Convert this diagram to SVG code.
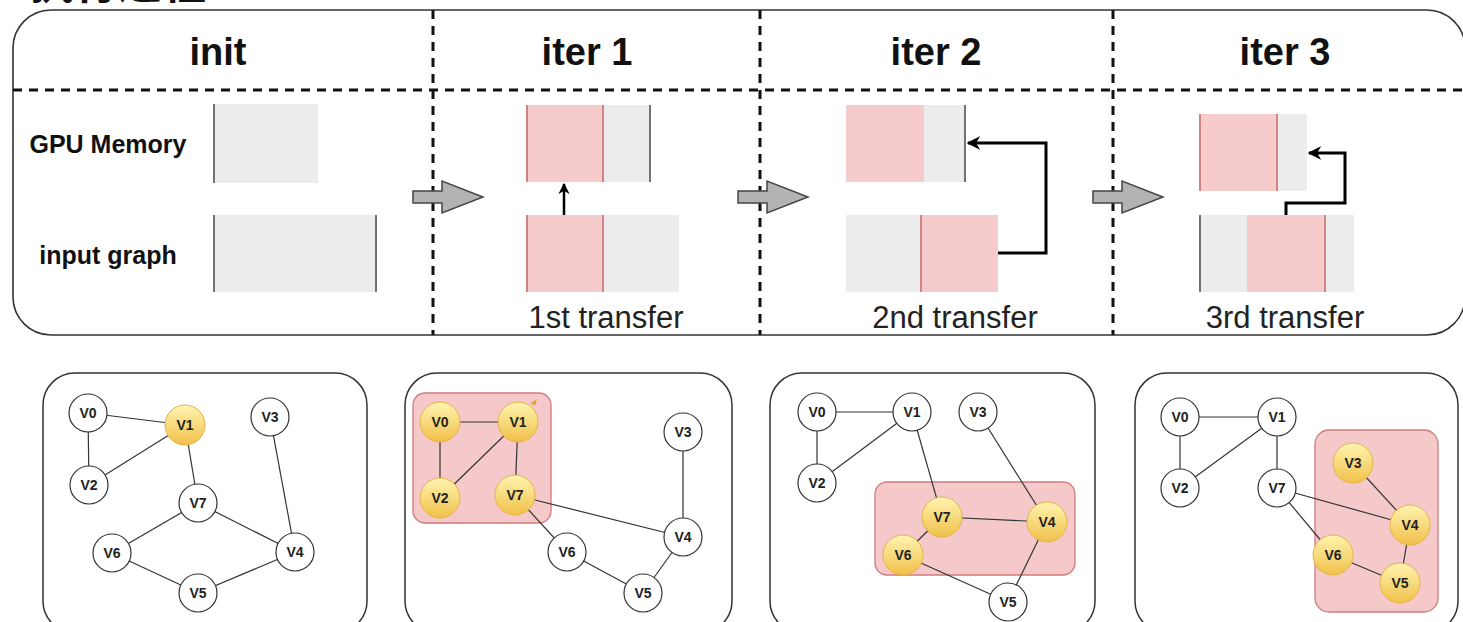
<svg xmlns="http://www.w3.org/2000/svg" width="1463" height="622" viewBox="0 0 1463 622">
  <defs>
    <linearGradient id="gold" x1="0" y1="0" x2="0" y2="1">
      <stop offset="0" stop-color="#fff4b0"/>
      <stop offset="1" stop-color="#f1c04a"/>
    </linearGradient>
    <marker id="head" viewBox="0 0 10 10" refX="9" refY="5" markerWidth="4.5" markerHeight="4.5" orient="auto">
      <path d="M0,0 L10,5 L0,10 L3,5 Z" fill="#000"/>
    </marker>
    <path id="step" d="M0,-6 H29 V-16 L70,0 L29,16 V6 H0 Z"/>
  </defs>
  <style>
    .title { font-family: "Liberation Sans", Arial, sans-serif; font-weight: bold; font-size: 38px; fill: #111; text-anchor: middle; }
    .row { font-family: "Liberation Sans", Arial, sans-serif; font-weight: bold; font-size: 25px; fill: #111; text-anchor: middle; }
    .cap { font-family: "Liberation Sans", Arial, sans-serif; font-size: 31px; fill: #222; text-anchor: middle; }
    .vl { font-family: "Liberation Sans", Arial, sans-serif; font-weight: bold; font-size: 14px; fill: #222; text-anchor: middle; dominant-baseline: central; }
    .frame { fill: none; stroke: #333; stroke-width: 1.6; }
    .sep { fill: none; stroke: #111; stroke-width: 3; stroke-dasharray: 9 7; }
    .gray { fill: #ececec; }
    .pink { fill: #f6cbcb; }
    .redline { stroke: #c87070; stroke-width: 1.6; }
    .darkline { stroke: #555; stroke-width: 1.6; }
    .step { fill: #b3b3b3; stroke: #444; stroke-width: 1.5; }
    .flow { fill: none; stroke: #000; stroke-width: 3; marker-end: url(#head); }
    .edge { stroke: #333; stroke-width: 1.2; }
    .node { fill: #fff; stroke: #333; stroke-width: 1.2; }
    .hot { fill: url(#gold); stroke: #e2b548; stroke-width: 1; }
    .zone { fill: #f5c9c9; stroke: #cf7c7c; stroke-width: 1.3; }
    .panel { fill: none; stroke: #333; stroke-width: 1.5; }
  </style>

  <!-- heading, clipped by the top edge -->
  <text x="30" y="-1" font-family="'Noto Sans CJK SC', sans-serif" font-weight="bold" font-size="44" fill="#111">执行过程</text>

  <!-- top timeline frame -->
  <g id="timeline">
    <rect class="frame" x="13" y="10" width="1452" height="325" rx="38"/>
    <line class="sep" x1="13" y1="90" x2="1463" y2="90"/>
    <line class="sep" x1="433" y1="10" x2="433" y2="335"/>
    <line class="sep" x1="760" y1="10" x2="760" y2="335"/>
    <line class="sep" x1="1113" y1="10" x2="1113" y2="335"/>
    <text class="title" x="218" y="65">init</text>
    <text class="title" x="587" y="65">iter 1</text>
    <text class="title" x="936" y="65">iter 2</text>
    <text class="title" x="1285" y="65">iter 3</text>
    <text class="row" x="108" y="153">GPU Memory</text>
    <text class="row" x="108" y="264">input graph</text>
  </g>

  <!-- init column -->
  <g id="init-memory">
    <rect class="gray" x="213" y="104" width="105" height="79"/>
    <line class="darkline" x1="214" y1="104" x2="214" y2="183"/>
  </g>
  <g id="init-input">
    <rect class="gray" x="213" y="215" width="164" height="77"/>
    <line class="darkline" x1="214" y1="215" x2="214" y2="292"/>
    <line class="darkline" x1="376" y1="215" x2="376" y2="292"/>
  </g>

  <!-- iter 1 column -->
  <g id="iter1-memory">
    <rect class="pink" x="526" y="105" width="77" height="77"/>
    <rect class="gray" x="603" y="105" width="48" height="77"/>
    <line class="redline" x1="527" y1="105" x2="527" y2="182"/>
    <line class="redline" x1="603" y1="105" x2="603" y2="182"/>
    <line class="darkline" x1="650" y1="105" x2="650" y2="182"/>
  </g>
  <g id="iter1-input">
    <rect class="pink" x="526" y="215" width="77" height="77"/>
    <rect class="gray" x="603" y="215" width="76" height="77"/>
    <line class="redline" x1="527" y1="215" x2="527" y2="292"/>
    <line class="redline" x1="603" y1="215" x2="603" y2="292"/>
  </g>
  <text class="cap" x="606" y="328">1st transfer</text>

  <!-- iter 2 column -->
  <g id="iter2-memory">
    <rect class="pink" x="846" y="105" width="78" height="77"/>
    <rect class="gray" x="924" y="105" width="42" height="77"/>
    <line class="darkline" x1="965" y1="105" x2="965" y2="182"/>
  </g>
  <g id="iter2-input">
    <rect class="gray" x="846" y="215" width="75" height="77"/>
    <rect class="pink" x="921" y="215" width="77" height="77"/>
    <line class="redline" x1="921" y1="215" x2="921" y2="292"/>
  </g>
  <text class="cap" x="955" y="328">2nd transfer</text>

  <!-- iter 3 column -->
  <g id="iter3-memory">
    <rect class="pink" x="1199" y="114" width="78" height="77"/>
    <rect class="gray" x="1277" y="114" width="30" height="77"/>
    <line class="redline" x1="1200" y1="114" x2="1200" y2="191"/>
    <line class="redline" x1="1277" y1="114" x2="1277" y2="191"/>
  </g>
  <g id="iter3-input">
    <rect class="gray" x="1199" y="215" width="48" height="77"/>
    <rect class="pink" x="1247" y="215" width="78" height="77"/>
    <rect class="gray" x="1325" y="215" width="29" height="77"/>
    <line class="darkline" x1="1200" y1="215" x2="1200" y2="292"/>
    <line class="redline" x1="1325" y1="215" x2="1325" y2="292"/>
  </g>
  <text class="cap" x="1285" y="328">3rd transfer</text>

  <!-- step arrows and transfers -->
  <g id="connectors">
    <use href="#step" class="step" x="413" y="197"/>
    <use href="#step" class="step" x="738" y="197"/>
    <use href="#step" class="step" x="1093" y="197"/>
    <path class="flow" d="M564,215 V184" style="stroke-width:2.5"/>
    <path class="flow" d="M998,253 H1046 V143 H968"/>
    <path class="flow" d="M1286,215 V203 H1345 V153 H1309"/>
  </g>

  <!-- graph state: init -->
  <g id="graph-init">
    <rect class="panel" x="43" y="373" width="324" height="260" rx="32"/>
    <g class="edges">
      <line class="edge" x1="88" y1="413" x2="185" y2="425"/>
      <line class="edge" x1="88" y1="413" x2="89" y2="485"/>
      <line class="edge" x1="185" y1="425" x2="89" y2="485"/>
      <line class="edge" x1="185" y1="425" x2="198" y2="503"/>
      <line class="edge" x1="270" y1="417" x2="295" y2="552"/>
      <line class="edge" x1="198" y1="503" x2="112" y2="553"/>
      <line class="edge" x1="198" y1="503" x2="295" y2="552"/>
      <line class="edge" x1="112" y1="553" x2="198" y2="593"/>
      <line class="edge" x1="198" y1="593" x2="295" y2="552"/>
    </g>
    <circle class="node" cx="88" cy="413" r="19"/><text class="vl" x="88" y="413">V0</text>
    <circle class="hot" cx="185" cy="425" r="20"/><text class="vl" x="185" y="425">V1</text>
    <circle class="node" cx="270" cy="417" r="19"/><text class="vl" x="270" y="417">V3</text>
    <circle class="node" cx="89" cy="485" r="19"/><text class="vl" x="89" y="485">V2</text>
    <circle class="node" cx="198" cy="503" r="19"/><text class="vl" x="198" y="503">V7</text>
    <circle class="node" cx="112" cy="553" r="19"/><text class="vl" x="112" y="553">V6</text>
    <circle class="node" cx="295" cy="552" r="19"/><text class="vl" x="295" y="552">V4</text>
    <circle class="node" cx="198" cy="593" r="19"/><text class="vl" x="198" y="593">V5</text>
  </g>

  <!-- graph state: iter 1 -->
  <g id="graph-iter1">
    <rect class="panel" x="405" y="373" width="327" height="260" rx="32"/>
    <rect class="zone" x="413" y="393" width="138" height="130" rx="12"/>
    <g class="edges">
      <line class="edge" x1="440" y1="422" x2="518" y2="422" stroke-width="2"/>
      <line class="edge" x1="440" y1="422" x2="440" y2="498" stroke-width="1.6"/>
      <line class="edge" x1="518" y1="422" x2="440" y2="498"/>
      <line class="edge" x1="518" y1="422" x2="515" y2="495"/>
      <line class="edge" x1="683" y1="432" x2="683" y2="537" stroke-width="1.6"/>
      <line class="edge" x1="515" y1="495" x2="683" y2="537"/>
      <line class="edge" x1="515" y1="495" x2="567" y2="552"/>
      <line class="edge" x1="567" y1="552" x2="643" y2="593"/>
      <line class="edge" x1="643" y1="593" x2="683" y2="537"/>
    </g>
    <circle class="hot" cx="440" cy="422" r="20"/><text class="vl" x="440" y="422">V0</text>
    <circle class="hot" cx="518" cy="422" r="20"/><text class="vl" x="518" y="422">V1</text>
    <path d="M531,403 L537,399 L535,406 Z" fill="#e0a030"/>
    <circle class="hot" cx="440" cy="498" r="20"/><text class="vl" x="440" y="498">V2</text>
    <circle class="hot" cx="515" cy="495" r="20"/><text class="vl" x="515" y="495">V7</text>
    <circle class="node" cx="683" cy="432" r="19"/><text class="vl" x="683" y="432">V3</text>
    <circle class="node" cx="683" cy="537" r="19"/><text class="vl" x="683" y="537">V4</text>
    <circle class="node" cx="567" cy="552" r="19"/><text class="vl" x="567" y="552">V6</text>
    <circle class="node" cx="643" cy="593" r="19"/><text class="vl" x="643" y="593">V5</text>
  </g>

  <!-- graph state: iter 2 -->
  <g id="graph-iter2">
    <rect class="panel" x="770" y="373" width="325" height="260" rx="32"/>
    <rect class="zone" x="875" y="482" width="200" height="93" rx="12"/>
    <g class="edges">
      <line class="edge" x1="817" y1="412" x2="912" y2="412"/>
      <line class="edge" x1="817" y1="412" x2="817" y2="483"/>
      <line class="edge" x1="912" y1="412" x2="817" y2="483"/>
      <line class="edge" x1="912" y1="412" x2="942" y2="517"/>
      <line class="edge" x1="978" y1="412" x2="1047" y2="522"/>
      <line class="edge" x1="942" y1="517" x2="1047" y2="522"/>
      <line class="edge" x1="942" y1="517" x2="903" y2="555"/>
      <line class="edge" x1="903" y1="555" x2="1008" y2="602"/>
      <line class="edge" x1="1047" y1="522" x2="1008" y2="602"/>
    </g>
    <circle class="node" cx="817" cy="412" r="19"/><text class="vl" x="817" y="412">V0</text>
    <circle class="node" cx="912" cy="412" r="19"/><text class="vl" x="912" y="412">V1</text>
    <circle class="node" cx="978" cy="412" r="19"/><text class="vl" x="978" y="412">V3</text>
    <circle class="node" cx="817" cy="483" r="19"/><text class="vl" x="817" y="483">V2</text>
    <circle class="hot" cx="942" cy="517" r="20"/><text class="vl" x="942" y="517">V7</text>
    <circle class="hot" cx="1047" cy="522" r="20"/><text class="vl" x="1047" y="522">V4</text>
    <circle class="hot" cx="903" cy="555" r="20"/><text class="vl" x="903" y="555">V6</text>
    <circle class="node" cx="1008" cy="602" r="19"/><text class="vl" x="1008" y="602">V5</text>
  </g>

  <!-- graph state: iter 3 -->
  <g id="graph-iter3">
    <rect class="panel" x="1135" y="373" width="323" height="260" rx="32"/>
    <rect class="zone" x="1315" y="430" width="123" height="182" rx="14"/>
    <g class="edges">
      <line class="edge" x1="1180" y1="417" x2="1277" y2="417"/>
      <line class="edge" x1="1180" y1="417" x2="1180" y2="488" stroke-width="1.6"/>
      <line class="edge" x1="1277" y1="417" x2="1180" y2="488"/>
      <line class="edge" x1="1277" y1="417" x2="1277" y2="488" stroke-width="1.6"/>
      <line class="edge" x1="1277" y1="488" x2="1410" y2="525"/>
      <line class="edge" x1="1277" y1="488" x2="1333" y2="555"/>
      <line class="edge" x1="1353" y1="463" x2="1410" y2="525"/>
      <line class="edge" x1="1410" y1="525" x2="1400" y2="583"/>
      <line class="edge" x1="1333" y1="555" x2="1400" y2="583"/>
    </g>
    <circle class="node" cx="1180" cy="417" r="19"/><text class="vl" x="1180" y="417">V0</text>
    <circle class="node" cx="1277" cy="417" r="19"/><text class="vl" x="1277" y="417">V1</text>
    <circle class="node" cx="1180" cy="488" r="19"/><text class="vl" x="1180" y="488">V2</text>
    <circle class="node" cx="1277" cy="488" r="19"/><text class="vl" x="1277" y="488">V7</text>
    <circle class="hot" cx="1353" cy="463" r="20"/><text class="vl" x="1353" y="463">V3</text>
    <circle class="hot" cx="1410" cy="525" r="20"/><text class="vl" x="1410" y="525">V4</text>
    <circle class="hot" cx="1333" cy="555" r="20"/><text class="vl" x="1333" y="555">V6</text>
    <circle class="hot" cx="1400" cy="583" r="20"/><text class="vl" x="1400" y="583">V5</text>
  </g>
</svg>
